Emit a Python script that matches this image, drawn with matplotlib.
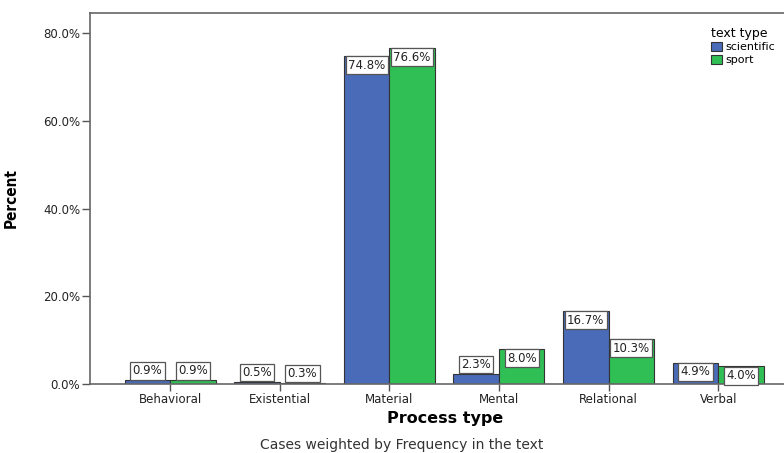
import matplotlib.pyplot as plt
import numpy as np

plt.rcParams["font.family"] = ["DejaVu Sans"]

categories = ["Behavioral", "Existential", "Material", "Mental", "Relational", "Verbal"]
scientific = [0.9, 0.5, 74.8, 2.3, 16.7, 4.9]
sport = [0.9, 0.3, 76.6, 8.0, 10.3, 4.0]
series_names = ["scientific", "sport"]
yticks = [0, 20, 40, 60, 80]

blue = "#4a6bb8"
green = "#30bf55"
edge = "#333333"

fig = plt.figure(figsize=(7.84, 4.53), dpi=100)
ax = fig.add_axes([90 / 784, 69 / 453, 694 / 784, 371 / 453])

x = np.arange(len(categories))
w = 0.415
b1 = ax.bar(x - w / 2, scientific, w, color=blue, edgecolor=edge, linewidth=0.8, label=series_names[0])
b2 = ax.bar(x + w / 2, sport, w, color=green, edgecolor=edge, linewidth=0.8, label=series_names[1])

ax.set_xlim(-0.73, 5.60)
ax.set_ylim(0, 84.56)

# value labels: inside the top of the bar if it fits, otherwise above it
box_h = 3.7
for bars, vals in ((b1, scientific), (b2, sport)):
    for rect, v in zip(bars, vals):
        cx = rect.get_x() + rect.get_width() / 2
        if v > box_h:
            off, va = -2, "top"
        else:
            off, va = 2, "bottom"
        ax.annotate(f"{v:.1f}%", xy=(cx, v), xytext=(0, off), textcoords="offset points",
                    ha="center", va=va, fontsize=8.5, color="#222222",
                    bbox=dict(boxstyle="square,pad=0.2", fc="white", ec="#555555", lw=0.9))

ax.set_yticks(yticks)
ax.set_yticklabels([f"{t:.1f}%" for t in yticks], fontsize=8.5, color="#222222")
ax.set_xticks(x)
ax.set_xticklabels(categories, fontsize=8.5, color="#222222")
ax.tick_params(axis="y", length=6, width=1, color="#555555", pad=1)
ax.tick_params(axis="x", length=5, width=1, color="#555555", pad=1.5)

for s in ("left", "bottom", "top"):
    ax.spines[s].set_color("#666666")
    ax.spines[s].set_linewidth(1.2)
ax.spines["right"].set_visible(False)

ax.set_ylabel("Percent", fontsize=11, fontweight="bold", fontstretch="condensed")
ax.yaxis.set_label_coords(-71 / 694, 0.5)
ax.set_xlabel("Process type", fontsize=11.5, fontweight="bold")
ax.xaxis.set_label_coords((445 - 90) / 694, -27 / 371)

fig.text(402 / 784, 1 - 445 / 453, "Cases weighted by Frequency in the text",
         ha="center", va="center", fontsize=10, color="#333333")

leg = ax.legend(title="text type", loc="upper left", bbox_to_anchor=(703 / 784, 0.958),
                bbox_transform=fig.transFigure, frameon=False, fontsize=8,
                title_fontsize=9, handlelength=1.0, handleheight=0.9,
                handletextpad=0.3, labelspacing=0.2, borderpad=0.2)
leg._legend_box.align = "left"

fig.savefig("out.png", dpi=100)
